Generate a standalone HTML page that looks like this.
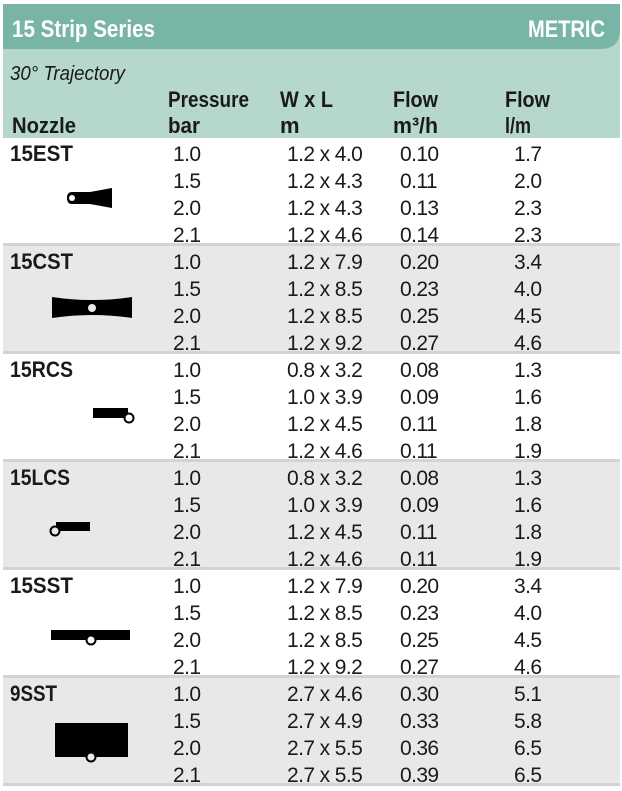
<!DOCTYPE html>
<html><head><meta charset="utf-8"><style>
html,body{margin:0;padding:0;background:#fff;width:622px;height:791px;overflow:hidden}
svg{display:block}
text{font-family:"Liberation Sans Narrow","Liberation Sans",sans-serif}
.h{font-weight:bold;fill:#1a1a1a;font-size:22px}
.d{fill:#1a1a1a;font-size:21px;letter-spacing:-0.6px}
</style></head><body>
<svg width="622" height="791" viewBox="0 0 622 791" xmlns="http://www.w3.org/2000/svg">
<rect x="3" y="4" width="617" height="134" fill="#b6d8cc"/>
<path d="M3 4 H620 V30 Q620 49 600 49 H3 Z" fill="#79b5a6"/>
<text x="12" y="37" fill="#fff" font-weight="bold" font-size="24" textLength="143" lengthAdjust="spacingAndGlyphs">15 Strip Series</text>
<text x="605" y="37" fill="#fff" font-weight="bold" font-size="24" text-anchor="end" textLength="77" lengthAdjust="spacingAndGlyphs">METRIC</text>
<text x="10" y="80" font-style="italic" font-size="20" fill="#1a1a1a" textLength="115" lengthAdjust="spacingAndGlyphs">30° Trajectory</text>
<g class="h">
<text x="12" y="133" textLength="64" lengthAdjust="spacingAndGlyphs">Nozzle</text>
<text x="168" y="107" textLength="81" lengthAdjust="spacingAndGlyphs">Pressure</text>
<text x="168" y="133" textLength="32" lengthAdjust="spacingAndGlyphs">bar</text>
<text x="280" y="107" textLength="53" lengthAdjust="spacingAndGlyphs">W x L</text>
<text x="280" y="133">m</text>
<text x="393" y="107" textLength="45" lengthAdjust="spacingAndGlyphs">Flow</text>
<text x="393" y="133" textLength="45" lengthAdjust="spacingAndGlyphs">m³/h</text>
<text x="505" y="107" textLength="45" lengthAdjust="spacingAndGlyphs">Flow</text>
<text x="505" y="133" textLength="26" lengthAdjust="spacingAndGlyphs">l/m</text>
</g>
<rect x="3" y="244" width="617" height="108" fill="#e8e8e9"/>
<rect x="3" y="460" width="617" height="108" fill="#e8e8e9"/>
<rect x="3" y="676" width="617" height="108" fill="#e8e8e9"/>
<g fill="#d3d3d3">
<rect x="3" y="243" width="617" height="3"/>
<rect x="3" y="351" width="617" height="3"/>
<rect x="3" y="459" width="617" height="3"/>
<rect x="3" y="567" width="617" height="3"/>
<rect x="3" y="675" width="617" height="3"/>
<rect x="3" y="783" width="617" height="3"/>
</g>
<g class="h">
<text x="10" y="161" textLength="63" lengthAdjust="spacingAndGlyphs">15EST</text>
<text x="10" y="269" textLength="63" lengthAdjust="spacingAndGlyphs">15CST</text>
<text x="10" y="377" textLength="63" lengthAdjust="spacingAndGlyphs">15RCS</text>
<text x="10" y="485" textLength="60" lengthAdjust="spacingAndGlyphs">15LCS</text>
<text x="10" y="593" textLength="63" lengthAdjust="spacingAndGlyphs">15SST</text>
<text x="10" y="701" textLength="47" lengthAdjust="spacingAndGlyphs">9SST</text>
</g>
<g class="d">
<text x="173" y="161">1.0</text><text x="287" y="161">1.2 x 4.0</text><text x="400" y="161">0.10</text><text x="514" y="161">1.7</text>
<text x="173" y="188">1.5</text><text x="287" y="188">1.2 x 4.3</text><text x="400" y="188">0.11</text><text x="514" y="188">2.0</text>
<text x="173" y="215">2.0</text><text x="287" y="215">1.2 x 4.3</text><text x="400" y="215">0.13</text><text x="514" y="215">2.3</text>
<text x="173" y="242">2.1</text><text x="287" y="242">1.2 x 4.6</text><text x="400" y="242">0.14</text><text x="514" y="242">2.3</text>
<text x="173" y="269">1.0</text><text x="287" y="269">1.2 x 7.9</text><text x="400" y="269">0.20</text><text x="514" y="269">3.4</text>
<text x="173" y="296">1.5</text><text x="287" y="296">1.2 x 8.5</text><text x="400" y="296">0.23</text><text x="514" y="296">4.0</text>
<text x="173" y="323">2.0</text><text x="287" y="323">1.2 x 8.5</text><text x="400" y="323">0.25</text><text x="514" y="323">4.5</text>
<text x="173" y="350">2.1</text><text x="287" y="350">1.2 x 9.2</text><text x="400" y="350">0.27</text><text x="514" y="350">4.6</text>
<text x="173" y="377">1.0</text><text x="287" y="377">0.8 x 3.2</text><text x="400" y="377">0.08</text><text x="514" y="377">1.3</text>
<text x="173" y="404">1.5</text><text x="287" y="404">1.0 x 3.9</text><text x="400" y="404">0.09</text><text x="514" y="404">1.6</text>
<text x="173" y="431">2.0</text><text x="287" y="431">1.2 x 4.5</text><text x="400" y="431">0.11</text><text x="514" y="431">1.8</text>
<text x="173" y="458">2.1</text><text x="287" y="458">1.2 x 4.6</text><text x="400" y="458">0.11</text><text x="514" y="458">1.9</text>
<text x="173" y="485">1.0</text><text x="287" y="485">0.8 x 3.2</text><text x="400" y="485">0.08</text><text x="514" y="485">1.3</text>
<text x="173" y="512">1.5</text><text x="287" y="512">1.0 x 3.9</text><text x="400" y="512">0.09</text><text x="514" y="512">1.6</text>
<text x="173" y="539">2.0</text><text x="287" y="539">1.2 x 4.5</text><text x="400" y="539">0.11</text><text x="514" y="539">1.8</text>
<text x="173" y="566">2.1</text><text x="287" y="566">1.2 x 4.6</text><text x="400" y="566">0.11</text><text x="514" y="566">1.9</text>
<text x="173" y="593">1.0</text><text x="287" y="593">1.2 x 7.9</text><text x="400" y="593">0.20</text><text x="514" y="593">3.4</text>
<text x="173" y="620">1.5</text><text x="287" y="620">1.2 x 8.5</text><text x="400" y="620">0.23</text><text x="514" y="620">4.0</text>
<text x="173" y="647">2.0</text><text x="287" y="647">1.2 x 8.5</text><text x="400" y="647">0.25</text><text x="514" y="647">4.5</text>
<text x="173" y="674">2.1</text><text x="287" y="674">1.2 x 9.2</text><text x="400" y="674">0.27</text><text x="514" y="674">4.6</text>
<text x="173" y="701">1.0</text><text x="287" y="701">2.7 x 4.6</text><text x="400" y="701">0.30</text><text x="514" y="701">5.1</text>
<text x="173" y="728">1.5</text><text x="287" y="728">2.7 x 4.9</text><text x="400" y="728">0.33</text><text x="514" y="728">5.8</text>
<text x="173" y="755">2.0</text><text x="287" y="755">2.7 x 5.5</text><text x="400" y="755">0.36</text><text x="514" y="755">6.5</text>
<text x="173" y="782">2.1</text><text x="287" y="782">2.7 x 5.5</text><text x="400" y="782">0.39</text><text x="514" y="782">6.5</text>
</g>
<path d="M72 192 Q67 192 67 198 Q67 204 72 204 L90 204 L112 208 L112 188 L90 192 Z" fill="#000"/>
<circle cx="72" cy="198" r="3" fill="#fff"/>
<path d="M52 297 Q92 303 132 297 L132 318 Q92 312 52 318 Z" fill="#000"/>
<circle cx="92" cy="308" r="4" fill="#e8e8e9"/>
<rect x="93" y="408" width="35" height="10" fill="#000"/>
<circle cx="129" cy="418" r="4.5" fill="#fff" stroke="#000" stroke-width="2"/>
<rect x="56" y="522" width="34" height="9" fill="#000"/>
<circle cx="55" cy="531" r="4.5" fill="#e8e8e9" stroke="#000" stroke-width="2"/>
<rect x="51" y="630" width="79" height="10" fill="#000"/>
<circle cx="91" cy="640" r="4.5" fill="#fff" stroke="#000" stroke-width="2"/>
<rect x="55" y="723" width="73" height="34" fill="#000"/>
<circle cx="91" cy="757" r="4.5" fill="#e8e8e9" stroke="#000" stroke-width="2"/>
</svg>
</body></html>
